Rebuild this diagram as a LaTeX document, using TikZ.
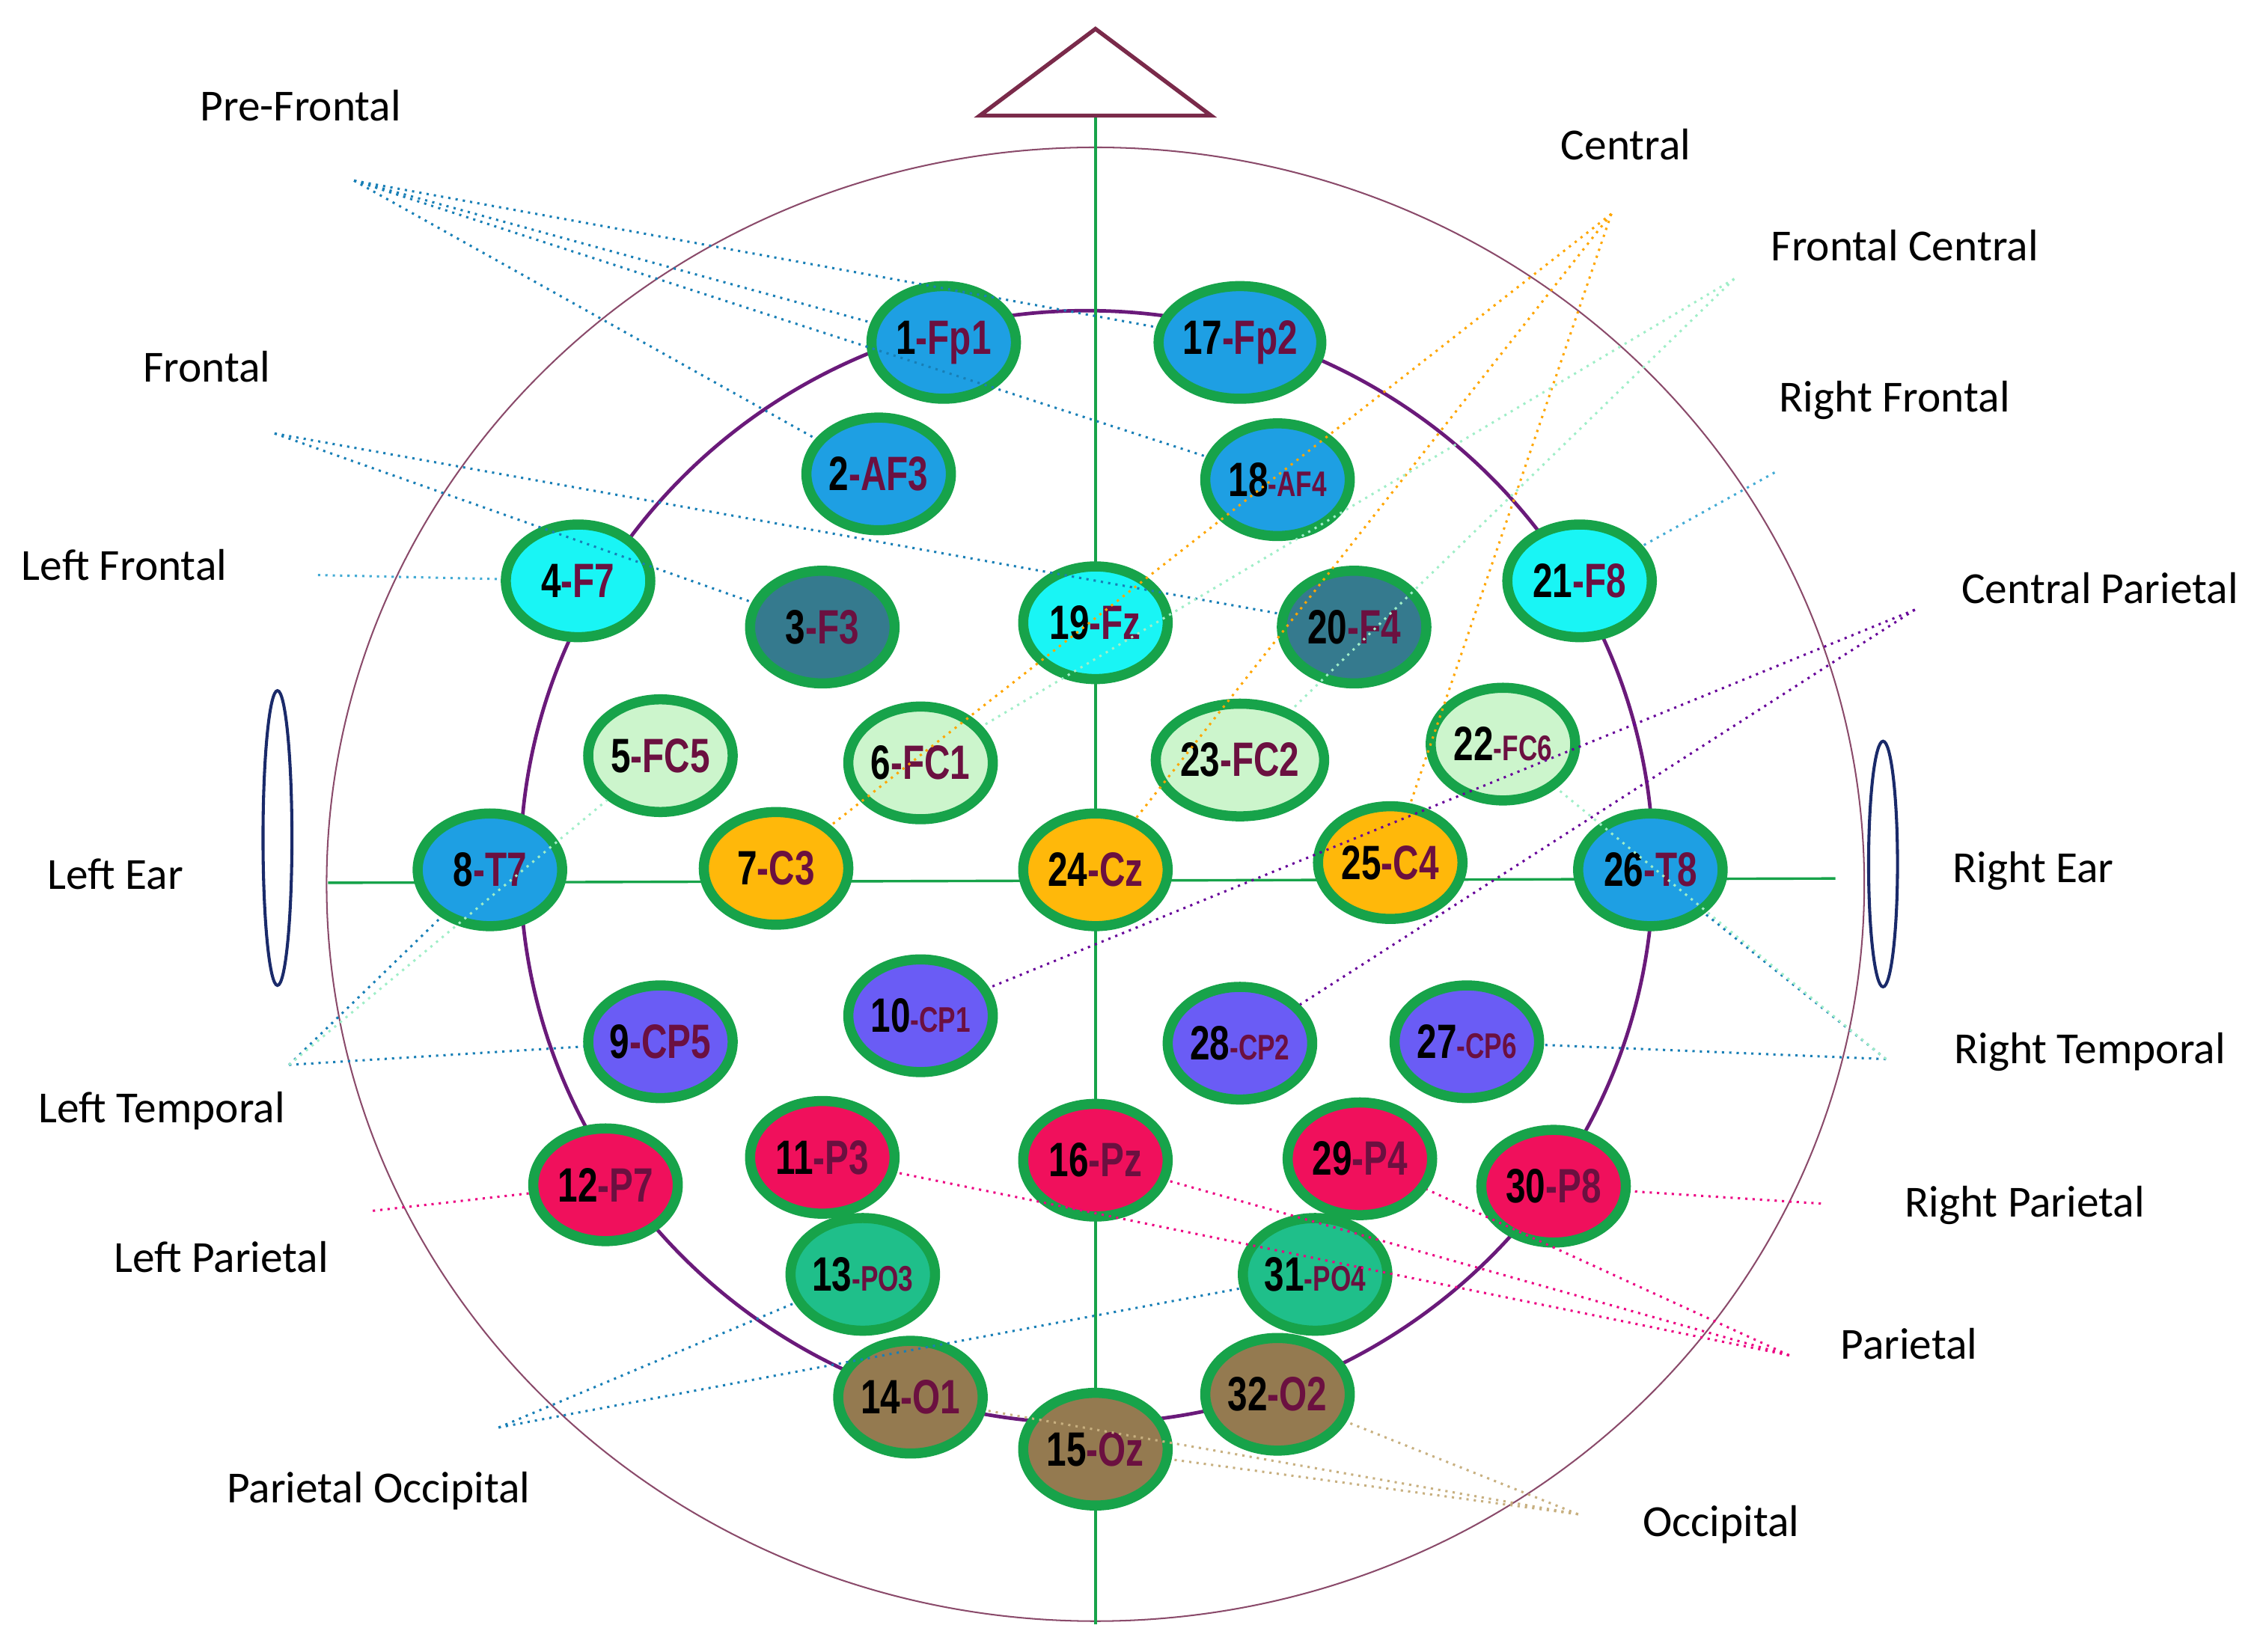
\documentclass[tikz,border=0pt]{standalone}
\usepackage{fontspec}
\setmainfont{Carlito}
\newfontfamily\ef{Liberation Sans}
\usetikzlibrary{shapes.geometric}
\definecolor{eg}{HTML}{17A34A}
\definecolor{cblue}{HTML}{1E9FE3}
\definecolor{ccyan}{HTML}{19F5F5}
\definecolor{cteal}{HTML}{357A8E}
\definecolor{clg}{HTML}{CCF5CC}
\definecolor{corg}{HTML}{FFB80A}
\definecolor{cpur}{HTML}{6A5CF5}
\definecolor{cmag}{HTML}{F0105C}
\definecolor{cgr}{HTML}{1FBF8A}
\definecolor{cbr}{HTML}{947A50}
\definecolor{sfx}{HTML}{6B1040}
\definecolor{head}{HTML}{8A4A6A}
\definecolor{inner}{HTML}{6A1A7A}
\definecolor{tri}{HTML}{7A2A4A}
\definecolor{ear}{HTML}{1A2A6A}
\definecolor{lgline}{HTML}{A0EEC8}
\definecolor{occ}{HTML}{C8B080}
\newcommand{\lab}[2]{\scalebox{0.74}[1]{\bfseries #1\textcolor{sfx}{#2}}}
\newcommand{\labs}[2]{\scalebox{0.74}[1]{\bfseries #1\textcolor{sfx}{\fontsize{14}{14}\selectfont #2}}}
\begin{document}
\begin{tikzpicture}[x=0.02cm,y=-0.02cm,
  elec/.style={ellipse,draw=eg,line width=0.14cm,minimum width=2.0cm,minimum height=1.56cm,inner sep=0pt,font=\ef\fontsize{19}{19}\selectfont},
  cat/.style={font=\fontsize{17.5}{17.5}\selectfont,inner sep=0pt},
  dl/.style={dotted,line width=0.9pt},
  lb/.style={dl,draw=cblue!80!black},
  lc/.style={dl,draw=cyan!70!gray},
  lo/.style={dl,draw=orange!70!yellow},
  lp/.style={dl,draw=violet!80!blue},
  lm/.style={dl,draw=magenta!90!red},
  lt/.style={dl,draw=occ},
  lg/.style={dl,draw=lgline}]
\useasboundingbox (0,0) rectangle (1568,1143);
% head
\draw[head,line width=0.6pt] (758,612) ellipse [x radius=532,y radius=510];
\draw[inner,line width=1.4pt] (752,600) ellipse [x radius=392,y radius=385];
\draw[eg,line width=1pt] (758,80) -- (758,1124);
\draw[eg,line width=1pt] (227,611) -- (1270,608);
\draw[tri,line width=1.6pt] (758,20) -- (678,80) -- (838,80) -- cycle;
\draw[ear,line width=1.2pt] (192,580) ellipse [x radius=10,y radius=102];
\draw[ear,line width=1.2pt] (1303,598) ellipse [x radius=10,y radius=85];
% category labels
\node[cat] (tPF) at (208,73) {Pre-Frontal};
\node[cat] (tF) at (143,254) {Frontal};
\node[cat] (tLF) at (86,391) {Left Frontal};
\node[cat] (tLE) at (80,605) {Left Ear};
\node[cat] (tLT) at (112,769) {Left Temporal};
\node[cat] (tLP) at (153,870) {Left Parietal};
\node[cat] (tPO) at (262,1032) {Parietal Occipital};
\node[cat] (tC) at (1125,100) {Central};
\node[cat] (tFC) at (1318,170) {Frontal Central};
\node[cat] (tRF) at (1311,277) {Right Frontal};
\node[cat] (tCP) at (1453,407) {Central Parietal};
\node[cat] (tRE) at (1407,603) {Right Ear};
\node[cat] (tRT) at (1446,728) {Right Temporal};
\node[cat] (tRP) at (1401,834) {Right Parietal};
\node[cat] (tP) at (1321,930) {Parietal};
\node[cat] (tO) at (1191,1055) {Occipital};
% electrodes
\node[elec,fill=cblue] (e1) at (653,237) {\lab{1}{-Fp1}};
\node[elec,fill=cblue] (e17) at (858,237) {\lab{17}{-Fp2}};
\node[elec,fill=cblue] (e2) at (608,328) {\lab{2}{-AF3}};
\node[elec,fill=cblue] (e18) at (884,332) {\labs{18}{-AF4}};
\node[elec,fill=ccyan] (e4) at (400,402) {\lab{4}{-F7}};
\node[elec,fill=cteal] (e3) at (569,434) {\lab{3}{-F3}};
\node[elec,fill=ccyan] (e19) at (758,431) {\lab{19}{-Fz}};
\node[elec,fill=cteal] (e20) at (937,434) {\lab{20}{-F4}};
\node[elec,fill=ccyan] (e21) at (1093,402) {\lab{21}{-F8}};
\node[elec,fill=clg] (e5) at (457,523) {\lab{5}{-FC5}};
\node[elec,fill=clg] (e6) at (637,528) {\lab{6}{-FC1}};
\node[elec,fill=clg] (e23) at (858,526) {\lab{23}{-FC2}};
\node[elec,fill=clg] (e22) at (1040,515) {\labs{22}{-FC6}};
\node[elec,fill=cblue] (e8) at (339,602) {\lab{8}{-T7}};
\node[elec,fill=corg] (e7) at (537,601) {\lab{7}{-C3}};
\node[elec,fill=corg] (e24) at (758,602) {\lab{24}{-Cz}};
\node[elec,fill=corg] (e25) at (962,597) {\lab{25}{-C4}};
\node[elec,fill=cblue] (e26) at (1142,602) {\lab{26}{-T8}};
\node[elec,fill=cpur] (e9) at (457,721) {\lab{9}{-CP5}};
\node[elec,fill=cpur] (e10) at (637,703) {\labs{10}{-CP1}};
\node[elec,fill=cpur] (e28) at (858,722) {\labs{28}{-CP2}};
\node[elec,fill=cpur] (e27) at (1015,721) {\labs{27}{-CP6}};
\node[elec,fill=cmag] (e12) at (419,820) {\lab{12}{-P7}};
\node[elec,fill=cmag] (e11) at (569,801) {\lab{11}{-P3}};
\node[elec,fill=cmag] (e16) at (758,803) {\lab{16}{-Pz}};
\node[elec,fill=cmag] (e29) at (941,802) {\lab{29}{-P4}};
\node[elec,fill=cmag] (e30) at (1075,821) {\lab{30}{-P8}};
\node[elec,fill=cgr] (e13) at (597,882) {\labs{13}{-PO3}};
\node[elec,fill=cgr] (e31) at (910,882) {\labs{31}{-PO4}};
\node[elec,fill=cbr] (e14) at (630,967) {\lab{14}{-O1}};
\node[elec,fill=cbr] (e15) at (758,1003) {\lab{15}{-Oz}};
\node[elec,fill=cbr] (e32) at (884,965) {\lab{32}{-O2}};
% connector hubs
\coordinate (hPF) at (245,125);
\coordinate (hF) at (190,300);
\coordinate (hLF) at (220,398);
\coordinate (hLT) at (200,737);
\coordinate (hLP) at (258,838);
\coordinate (hPO) at (345,988);
\coordinate (hC) at (1115,148);
\coordinate (hFC) at (1200,193);
\coordinate (hRF) at (1228,327);
\coordinate (hCP) at (1325,422);
\coordinate (hRT) at (1305,733);
\coordinate (hRP) at (1260,833);
\coordinate (hP) at (1238,938);
\coordinate (hO) at (1092,1048);
% connectors
\draw[lb] (hPF) -- (e1); \draw[lb] (hPF) -- (e2); \draw[lb] (hPF) -- (e17); \draw[lb] (hPF) -- (e18);
\draw[lb] (hF) -- (e3); \draw[lb] (hF) -- (e20);
\draw[lc] (hLF) -- (e4);
\draw[lb] (hLT) -- (e8); \draw[lb] (hLT) -- (e9); \draw[lg] (hLT) -- (e5);
\draw[lm] (hLP) -- (e12);
\draw[lb] (hPO) -- (e13); \draw[lb] (hPO) -- (e31);
\draw[lo] (hC) -- (e7); \draw[lo] (hC) -- (e24); \draw[lo] (hC) -- (e25);
\draw[lg] (hFC) -- (e6); \draw[lg] (hFC) -- (e23);
\draw[lc] (hRF) -- (e21);
\draw[lp] (hCP) -- (e10); \draw[lp] (hCP) -- (e28);
\draw[lb] (hRT) -- (e26); \draw[lb] (hRT) -- (e27); \draw[lg] (hRT) -- (e22);
\draw[lm] (hRP) -- (e30);
\draw[lm] (hP) -- (e11); \draw[lm] (hP) -- (e16); \draw[lm] (hP) -- (e29);
\draw[lt] (hO) -- (e14); \draw[lt] (hO) -- (e15); \draw[lt] (hO) -- (e32);
\end{tikzpicture}
\end{document}
